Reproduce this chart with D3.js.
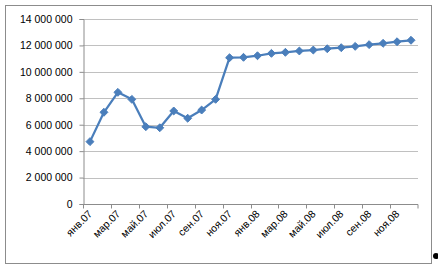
<!DOCTYPE html>
<html>
<head>
<meta charset="utf-8">
<script src="https://cdn.jsdelivr.net/npm/d3@7"></script>
<style>
  body { margin: 0; background: #fff; }
  svg { display: block; font-family: "Liberation Sans", Arial, sans-serif; }
</style>
</head>
<body>
<svg width="438" height="270"></svg>
<script>
// Month labels (every category)
const months = ["янв.07","фев.07","мар.07","апр.07","май.07","июн.07","июл.07","авг.07","сен.07","окт.07","ноя.07","дек.07",
                "янв.08","фев.08","мар.08","апр.08","май.08","июн.08","июл.08","авг.08","сен.08","окт.08","ноя.08","дек.08"];
const values = [4720000, 6940000, 8450000, 7920000, 5850000, 5770000, 7040000, 6490000, 7110000, 7920000, 11070000, 11100000,
                11220000, 11400000, 11480000, 11580000, 11650000, 11750000, 11830000, 11930000, 12060000, 12160000, 12280000, 12390000];
const yTicks = [0, 2000000, 4000000, 6000000, 8000000, 10000000, 12000000, 14000000];

const svg = d3.select("svg");

// Outer chart border
svg.append("rect")
  .attr("x", 5.5).attr("y", 5.5)
  .attr("width", 426).attr("height", 258)
  .attr("fill", "#fff")
  .attr("stroke", "#8c8c8c");

const plotLeft = 83, plotRight = 418, plotTop = 19, plotBottom = 204;

const x = d3.scaleBand().domain(months).range([plotLeft, plotRight]);
const y = d3.scaleLinear().domain([0, 14000000]).range([plotBottom, plotTop]);

const ru = d3.formatLocale({ decimal: ",", thousands: "\u00a0", grouping: [3], currency: ["", " руб."] });
const fmt = ru.format(",d");

// Gridlines
svg.append("g")
  .selectAll("line")
  .data(yTicks.slice(1))
  .enter()
  .append("line")
  .attr("x1", plotLeft).attr("x2", plotRight)
  .attr("y1", d => Math.round(y(d)) + 0.5)
  .attr("y2", d => Math.round(y(d)) + 0.5)
  .attr("stroke", "#c0c0c0");

// Y axis
const yAxis = svg.append("g")
  .attr("transform", `translate(${plotLeft + 0.5},0)`)
  .call(d3.axisLeft(y).tickValues(yTicks).tickFormat(fmt).tickSize(4).tickPadding(7));
yAxis.select(".domain").attr("stroke", "#8c8c8c");
yAxis.selectAll(".tick line").attr("stroke", "#8c8c8c");
yAxis.selectAll("text").attr("fill", "#000").style("font-size", "10.5px");

// X axis: ticks between every second category
const xAxisG = svg.append("g")
  .attr("transform", `translate(0,${Math.round(plotBottom) + 0.5})`);
xAxisG.append("line")
  .attr("x1", plotLeft).attr("x2", plotRight)
  .attr("stroke", "#8c8c8c");
xAxisG.selectAll(".xtick")
  .data(months.filter((d, i) => i % 2 === 0).concat(["end"]))
  .enter()
  .append("line")
  .attr("x1", d => d === "end" ? plotRight : Math.round(x(d)) + 0.5)
  .attr("x2", d => d === "end" ? plotRight : Math.round(x(d)) + 0.5)
  .attr("y1", 0).attr("y2", 4)
  .attr("stroke", "#8c8c8c");
xAxisG.selectAll(".xlabel")
  .data(months.filter((d, i) => i % 2 === 0))
  .enter()
  .append("text")
  .attr("transform", d => `translate(${x(d) + x.bandwidth() / 2 + 3},${10}) rotate(-45)`)
  .attr("text-anchor", "end")
  .style("font-size", "10.5px")
  .attr("fill", "#000")
  .text(d => d);

// Line
const line = d3.line()
  .x((d, i) => x(months[i]) + x.bandwidth() / 2)
  .y(d => y(d));

svg.append("path")
  .datum(values)
  .attr("d", line)
  .attr("fill", "none")
  .attr("stroke", "#4a7ebb")
  .attr("stroke-width", 2.25)
  .attr("stroke-linejoin", "round");

// Diamond markers
svg.append("g")
  .selectAll("path")
  .data(values)
  .enter()
  .append("path")
  .attr("d", d3.symbol().type(d3.symbolDiamond2).size(40))
  .attr("transform", (d, i) => `translate(${x(months[i]) + x.bandwidth() / 2},${y(d)})`)
  .attr("fill", "#4a7ebb")
  .attr("stroke", "#4a7ebb")
  .attr("stroke-width", 1);

// Small selection handle at the bottom right
svg.append("circle")
  .attr("cx", 436).attr("cy", 256).attr("r", 3)
  .attr("fill", "#000");
</script>
</body>
</html>
